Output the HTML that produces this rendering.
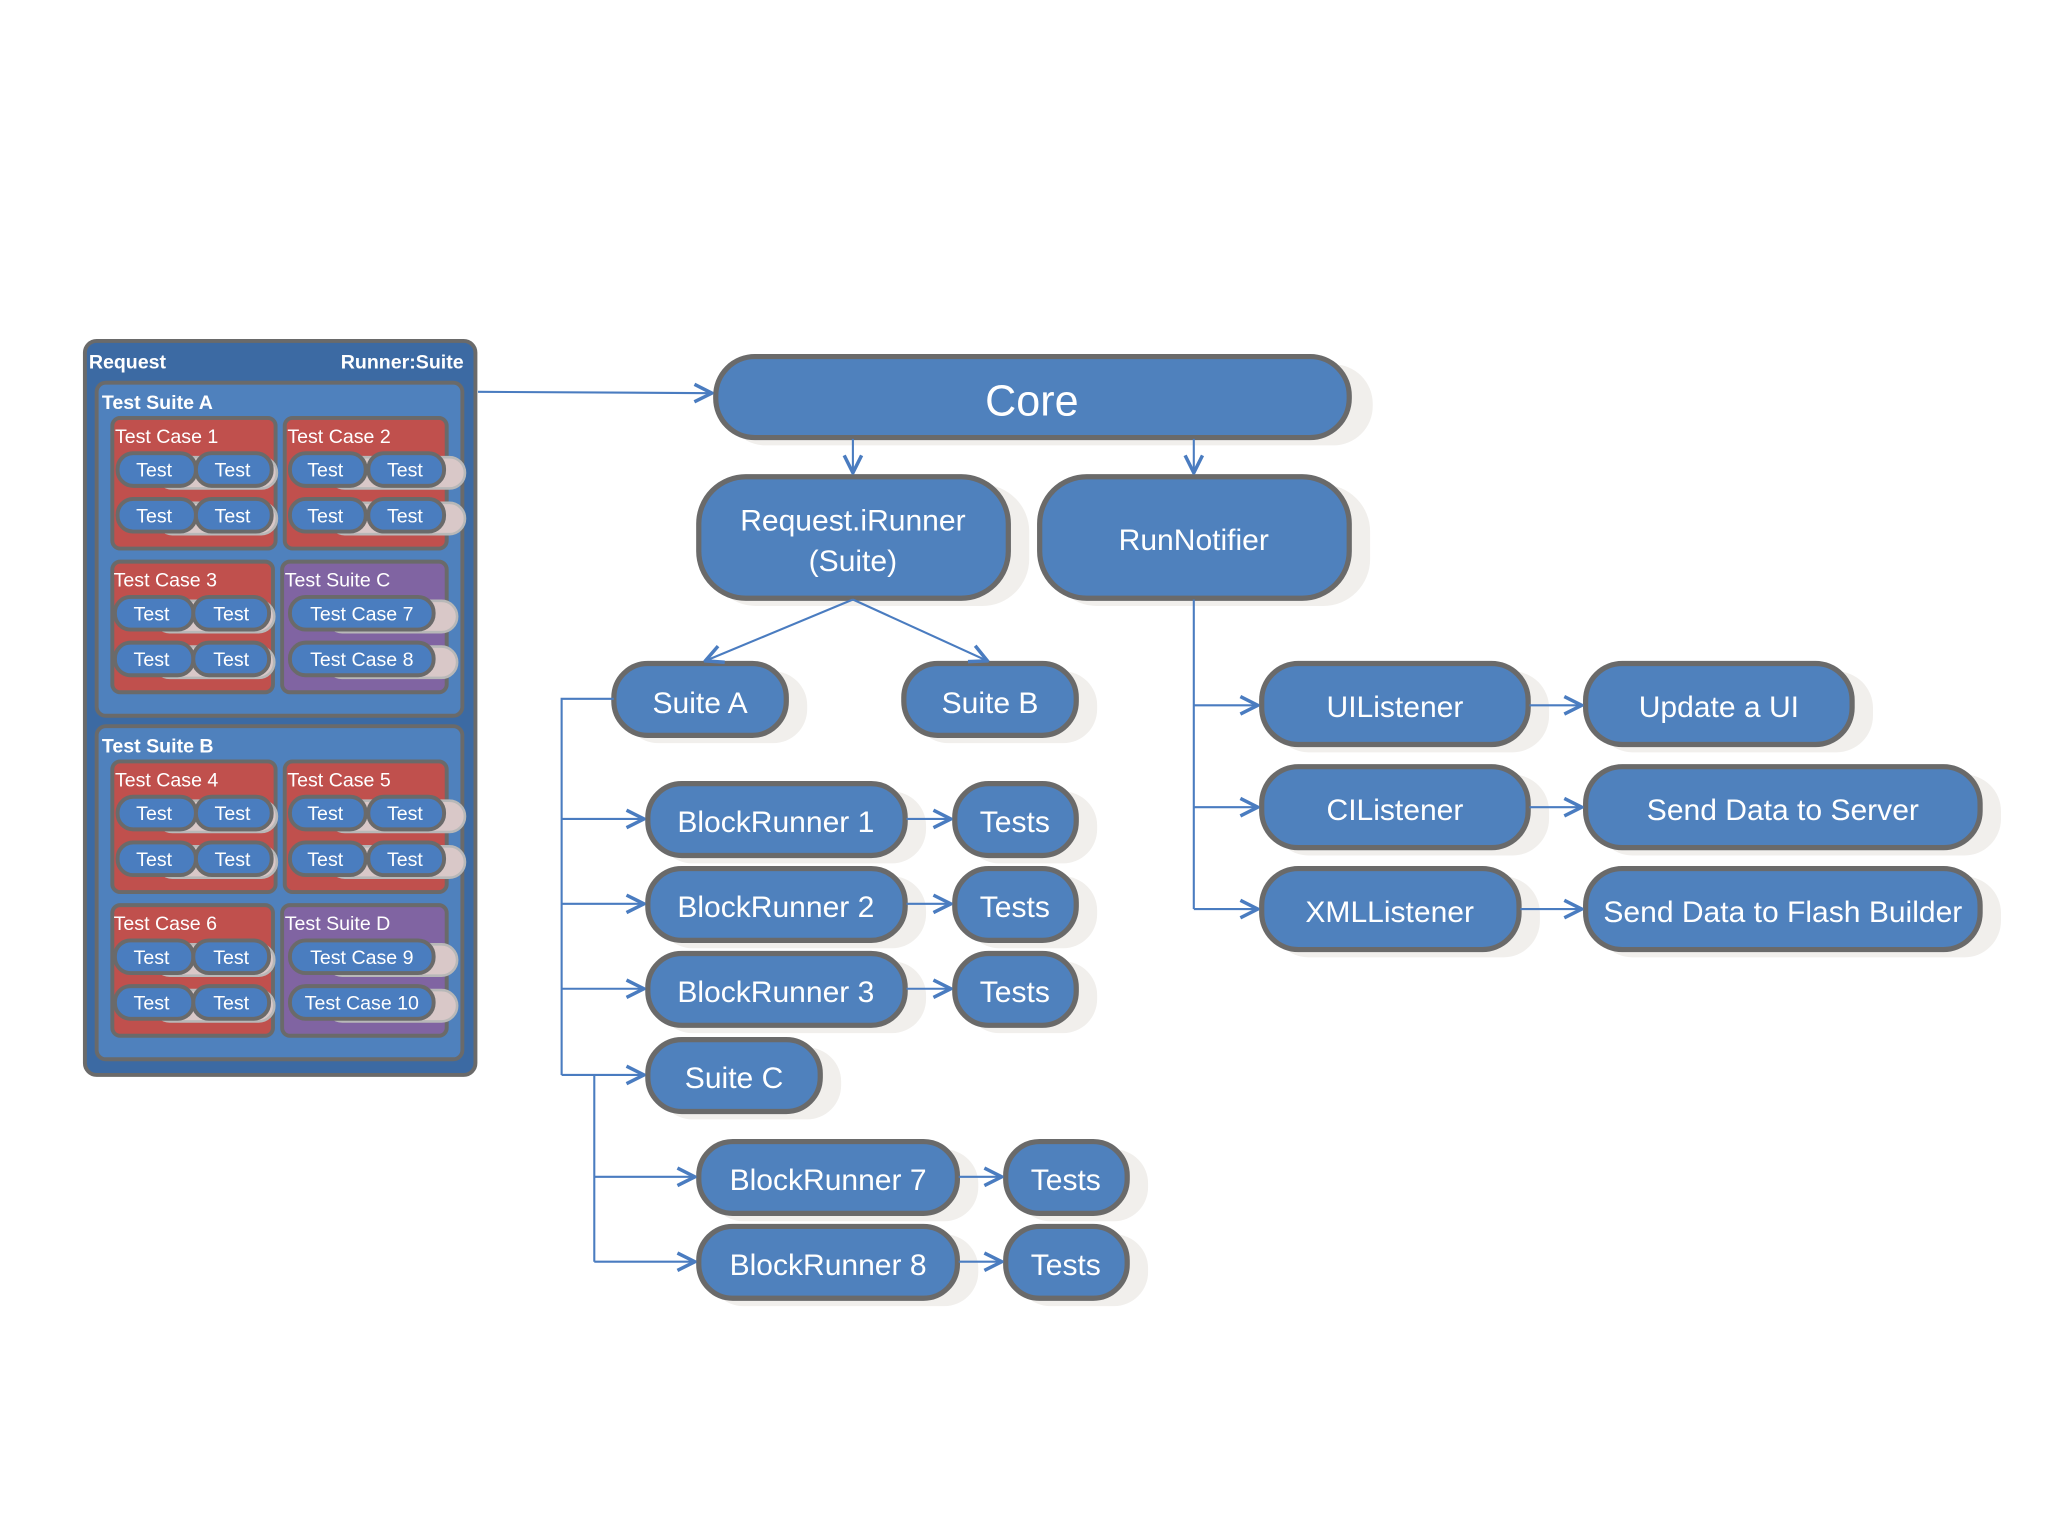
<!DOCTYPE html>
<html><head><meta charset="utf-8"><style>
html,body{margin:0;padding:0;background:#fff;width:2048px;height:1536px;overflow:hidden}
svg text{font-family:"Liberation Sans",sans-serif;fill:#fff}
</style></head><body>
<svg width="2048" height="1536" viewBox="0 0 1568 1176" xmlns="http://www.w3.org/2000/svg">
<defs>
<marker id="a" viewBox="0 0 12 12" refX="11" refY="6" markerWidth="16" markerHeight="16" markerUnits="userSpaceOnUse" orient="auto">
<path d="M1,1 L11,6 L1,11" fill="none" stroke="#4a7cc0" stroke-width="2"/></marker>
</defs>
<g fill="#f1efec">
<rect x="556" y="279" width="495" height="62" rx="30"/>
<rect x="543" y="371" width="245" height="93" rx="36"/>
<rect x="804" y="371" width="245" height="93" rx="36"/>
<rect x="478" y="514" width="140" height="55" rx="26"/>
<rect x="700" y="514" width="140" height="55" rx="26"/>
<rect x="504" y="606" width="205" height="55" rx="26"/><rect x="739" y="606" width="101" height="55" rx="26"/>
<rect x="504" y="671" width="205" height="55" rx="26"/><rect x="739" y="671" width="101" height="55" rx="26"/>
<rect x="504" y="736" width="205" height="55" rx="26"/><rect x="739" y="736" width="101" height="55" rx="26"/>
<rect x="504" y="802" width="140" height="55" rx="26"/>
<rect x="543" y="880" width="206" height="55" rx="26"/><rect x="778" y="880" width="101" height="55" rx="26"/>
<rect x="543" y="945" width="206" height="55" rx="26"/><rect x="778" y="945" width="101" height="55" rx="26"/>
<rect x="974" y="514" width="212" height="62" rx="28"/><rect x="1222" y="514" width="212" height="62" rx="28"/>
<rect x="974" y="593" width="212" height="62" rx="28"/><rect x="1222" y="593" width="310" height="62" rx="28"/>
<rect x="974" y="671" width="205" height="62" rx="28"/><rect x="1222" y="671" width="310" height="62" rx="28"/>
</g>
<g fill="#4f81bd" stroke="#6a6a6a" stroke-width="4">
<rect x="548" y="273" width="485" height="62" rx="30"/>
<rect x="535" y="365" width="237" height="93" rx="36"/>
<rect x="796" y="365" width="237" height="93" rx="36"/>
<rect x="470" y="508" width="132" height="55" rx="26"/>
<rect x="692" y="508" width="132" height="55" rx="26"/>
<rect x="496" y="600" width="197" height="55" rx="26"/><rect x="731" y="600" width="93" height="55" rx="26"/>
<rect x="496" y="665" width="197" height="55" rx="26"/><rect x="731" y="665" width="93" height="55" rx="26"/>
<rect x="496" y="730" width="197" height="55" rx="26"/><rect x="731" y="730" width="93" height="55" rx="26"/>
<rect x="496" y="796" width="132" height="55" rx="26"/>
<rect x="535" y="874" width="198" height="55" rx="26"/><rect x="770" y="874" width="93" height="55" rx="26"/>
<rect x="535" y="939" width="198" height="55" rx="26"/><rect x="770" y="939" width="93" height="55" rx="26"/>
<rect x="966" y="508" width="204" height="62" rx="28"/><rect x="1214" y="508" width="204" height="62" rx="28"/>
<rect x="966" y="587" width="204" height="62" rx="28"/><rect x="1214" y="587" width="302" height="62" rx="28"/>
<rect x="966" y="665" width="197" height="62" rx="28"/><rect x="1214" y="665" width="302" height="62" rx="28"/>
</g>
<g text-anchor="middle" font-size="23">
<text x="790" y="318" font-size="33">Core</text>
<text x="653" y="406">Request.iRunner</text><text x="653" y="437">(Suite)</text>
<text x="914" y="421">RunNotifier</text>
<text x="536" y="546">Suite A</text><text x="758" y="546">Suite B</text>
<text x="594" y="637">BlockRunner 1</text><text x="777" y="637">Tests</text>
<text x="594" y="702">BlockRunner 2</text><text x="777" y="702">Tests</text>
<text x="594" y="767">BlockRunner 3</text><text x="777" y="767">Tests</text>
<text x="562" y="833">Suite C</text>
<text x="634" y="911">BlockRunner 7</text><text x="816" y="911">Tests</text>
<text x="634" y="976">BlockRunner 8</text><text x="816" y="976">Tests</text>
<text x="1068" y="549">UIListener</text><text x="1316" y="549">Update a UI</text>
<text x="1068" y="628">CIListener</text><text x="1365" y="628">Send Data to Server</text>
<text x="1064" y="706">XMLListener</text><text x="1365" y="706">Send Data to Flash Builder</text>
</g>
<g fill="none" stroke="#4a7cc0" stroke-width="1.6">
<path d="M366 300 L545 301" marker-end="url(#a)"/>
<path d="M653 336 L653 362" marker-end="url(#a)"/>
<path d="M914 336 L914 362" marker-end="url(#a)"/>
<path d="M653 459 L540 506" marker-end="url(#a)"/>
<path d="M653 459 L756 506" marker-end="url(#a)"/>
<path d="M470 535 L430 535 L430 823"/>
<path d="M430 627 L493 627" marker-end="url(#a)"/>
<path d="M430 692 L493 692" marker-end="url(#a)"/>
<path d="M430 757 L493 757" marker-end="url(#a)"/>
<path d="M430 823 L493 823" marker-end="url(#a)"/>
<path d="M455 823 L455 966"/>
<path d="M455 901 L532 901" marker-end="url(#a)"/>
<path d="M455 966 L532 966" marker-end="url(#a)"/>
<path d="M694 627 L728 627" marker-end="url(#a)"/>
<path d="M694 692 L728 692" marker-end="url(#a)"/>
<path d="M694 757 L728 757" marker-end="url(#a)"/>
<path d="M734 901 L767 901" marker-end="url(#a)"/>
<path d="M734 966 L767 966" marker-end="url(#a)"/>
<path d="M914 459 L914 696"/>
<path d="M914 540 L963 540" marker-end="url(#a)"/>
<path d="M914 618 L963 618" marker-end="url(#a)"/>
<path d="M914 696 L963 696" marker-end="url(#a)"/>
<path d="M1171 540 L1211 540" marker-end="url(#a)"/>
<path d="M1171 618 L1211 618" marker-end="url(#a)"/>
<path d="M1164 696 L1211 696" marker-end="url(#a)"/>
</g>
<!-- left panel -->
<rect x="65" y="261" width="299" height="562" rx="9" fill="#3c6aa3" stroke="#6a6a6a" stroke-width="3"/>
<text x="68" y="282" font-size="15" font-weight="bold">Request</text>
<text x="355" y="282" font-size="15" font-weight="bold" text-anchor="end">Runner:Suite</text>
<g id="sa">
<rect x="74" y="293" width="280" height="255" rx="7" fill="#4f81bd" stroke="#6a6a6a" stroke-width="3"/>
<rect x="86" y="320" width="125" height="100" rx="6" fill="#c0504d" stroke="#6a6a6a" stroke-width="3"/>
<rect x="218" y="320" width="124" height="100" rx="6" fill="#c0504d" stroke="#6a6a6a" stroke-width="3"/>
<rect x="86" y="430" width="123" height="100" rx="6" fill="#c0504d" stroke="#6a6a6a" stroke-width="3"/>
<rect x="216" y="430" width="126" height="100" rx="6" fill="#8064a2" stroke="#6a6a6a" stroke-width="3"/>
<g fill="#d9c8c8" stroke="#b8b8b8" stroke-width="2">
<rect x="120" y="350" width="92" height="24" rx="12"/><rect x="252" y="350" width="104" height="24" rx="12"/>
<rect x="120" y="385" width="92" height="24" rx="12"/><rect x="252" y="385" width="104" height="24" rx="12"/>
<rect x="118" y="460" width="92" height="24" rx="12"/><rect x="250" y="460" width="100" height="24" rx="12"/>
<rect x="118" y="495" width="92" height="24" rx="12"/><rect x="250" y="495" width="100" height="24" rx="12"/>
</g>
<g fill="#4a7dbf" stroke="#6a6a6a" stroke-width="3">
<rect x="90" y="347" width="60" height="25" rx="12"/><rect x="150" y="347" width="58" height="25" rx="12"/>
<rect x="222" y="347" width="58" height="25" rx="12"/><rect x="282" y="347" width="58" height="25" rx="12"/>
<rect x="90" y="382" width="60" height="25" rx="12"/><rect x="150" y="382" width="58" height="25" rx="12"/>
<rect x="222" y="382" width="58" height="25" rx="12"/><rect x="282" y="382" width="58" height="25" rx="12"/>
<rect x="88" y="457" width="60" height="25" rx="12"/><rect x="148" y="457" width="58" height="25" rx="12"/>
<rect x="222" y="457" width="110" height="25" rx="12"/>
<rect x="88" y="492" width="60" height="25" rx="12"/><rect x="148" y="492" width="58" height="25" rx="12"/>
<rect x="222" y="492" width="110" height="25" rx="12"/>
</g>
<text x="78" y="313" font-size="15" font-weight="bold">Test Suite A</text>
<g font-size="15">
<text x="88" y="339">Test Case 1</text><text x="220" y="339">Test Case 2</text>
<text x="87" y="449">Test Case 3</text><text x="218" y="449">Test Suite C</text>
</g>
<g font-size="15" text-anchor="middle">
<text x="118" y="365">Test</text><text x="178" y="365">Test</text><text x="249" y="365">Test</text><text x="310" y="365">Test</text>
<text x="118" y="400">Test</text><text x="178" y="400">Test</text><text x="249" y="400">Test</text><text x="310" y="400">Test</text>
<text x="116" y="475">Test</text><text x="177" y="475">Test</text><text x="277" y="475">Test Case 7</text>
<text x="116" y="510">Test</text><text x="177" y="510">Test</text><text x="277" y="510">Test Case 8</text>
</g>
</g>
<g transform="translate(0,263)">
<rect x="74" y="293" width="280" height="255" rx="7" fill="#4f81bd" stroke="#6a6a6a" stroke-width="3"/>
<rect x="86" y="320" width="125" height="100" rx="6" fill="#c0504d" stroke="#6a6a6a" stroke-width="3"/>
<rect x="218" y="320" width="124" height="100" rx="6" fill="#c0504d" stroke="#6a6a6a" stroke-width="3"/>
<rect x="86" y="430" width="123" height="100" rx="6" fill="#c0504d" stroke="#6a6a6a" stroke-width="3"/>
<rect x="216" y="430" width="126" height="100" rx="6" fill="#8064a2" stroke="#6a6a6a" stroke-width="3"/>
<g fill="#d9c8c8" stroke="#b8b8b8" stroke-width="2">
<rect x="120" y="350" width="92" height="24" rx="12"/><rect x="252" y="350" width="104" height="24" rx="12"/>
<rect x="120" y="385" width="92" height="24" rx="12"/><rect x="252" y="385" width="104" height="24" rx="12"/>
<rect x="118" y="460" width="92" height="24" rx="12"/><rect x="250" y="460" width="100" height="24" rx="12"/>
<rect x="118" y="495" width="92" height="24" rx="12"/><rect x="250" y="495" width="100" height="24" rx="12"/>
</g>
<g fill="#4a7dbf" stroke="#6a6a6a" stroke-width="3">
<rect x="90" y="347" width="60" height="25" rx="12"/><rect x="150" y="347" width="58" height="25" rx="12"/>
<rect x="222" y="347" width="58" height="25" rx="12"/><rect x="282" y="347" width="58" height="25" rx="12"/>
<rect x="90" y="382" width="60" height="25" rx="12"/><rect x="150" y="382" width="58" height="25" rx="12"/>
<rect x="222" y="382" width="58" height="25" rx="12"/><rect x="282" y="382" width="58" height="25" rx="12"/>
<rect x="88" y="457" width="60" height="25" rx="12"/><rect x="148" y="457" width="58" height="25" rx="12"/>
<rect x="222" y="457" width="110" height="25" rx="12"/>
<rect x="88" y="492" width="60" height="25" rx="12"/><rect x="148" y="492" width="58" height="25" rx="12"/>
<rect x="222" y="492" width="110" height="25" rx="12"/>
</g>
<text x="78" y="313" font-size="15" font-weight="bold">Test Suite B</text>
<g font-size="15">
<text x="88" y="339">Test Case 4</text><text x="220" y="339">Test Case 5</text>
<text x="87" y="449">Test Case 6</text><text x="218" y="449">Test Suite D</text>
</g>
<g font-size="15" text-anchor="middle">
<text x="118" y="365">Test</text><text x="178" y="365">Test</text><text x="249" y="365">Test</text><text x="310" y="365">Test</text>
<text x="118" y="400">Test</text><text x="178" y="400">Test</text><text x="249" y="400">Test</text><text x="310" y="400">Test</text>
<text x="116" y="475">Test</text><text x="177" y="475">Test</text><text x="277" y="475">Test Case 9</text>
<text x="116" y="510">Test</text><text x="177" y="510">Test</text><text x="277" y="510">Test Case 10</text>
</g>
</g>
</svg>
</body></html>
